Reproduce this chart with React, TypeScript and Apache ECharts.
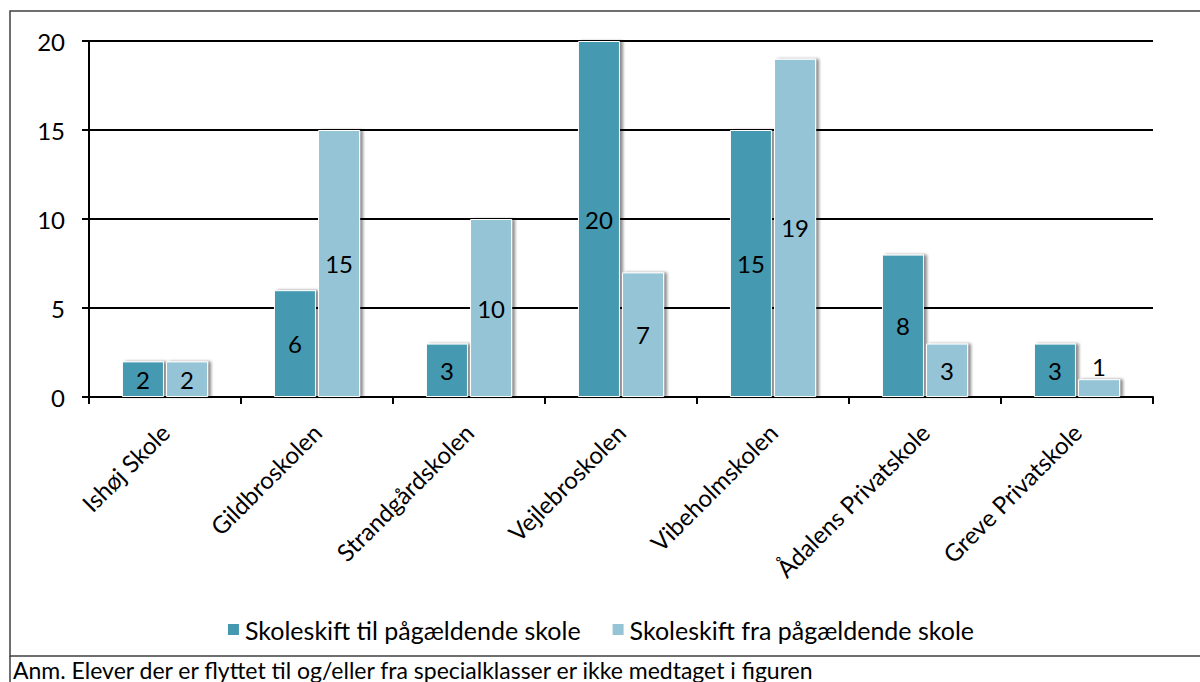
import React, { useEffect, useRef } from "react";
import * as echarts from "echarts";

const categories = [
  "Ishøj Skole",
  "Gildbroskolen",
  "Strandgårdskolen",
  "Vejlebroskolen",
  "Vibeholmskolen",
  "Ådalens Privatskole",
  "Greve Privatskole",
];
const seriesNames = ["Skoleskift til pågældende skole", "Skoleskift fra pågældende skole"];
const tilValues = [2, 6, 3, 20, 15, 8, 3];
const fraValues = [2, 15, 10, 7, 19, 3, 1];
const yTicks = [0, 5, 10, 15, 20];
const footnote = "Anm. Elever der er flyttet til og/eller fra specialklasser er ikke medtaget i figuren";

const FONT = "Lato, 'Noto Sans', sans-serif";
const colors = ["#4499B0", "#94C4D6"];

export default function App() {
  const ref = useRef<HTMLDivElement>(null);
  useEffect(() => {
    if (!ref.current) return;
    const chart = echarts.init(ref.current, null, { renderer: "svg" });
    const mkData = (vals: number[]) =>
      vals.map((v) => ({
        value: v,
        label: v <= 1 ? { position: "top", distance: 1 } : undefined,
      }));
    const barStyle = (c: string) => ({
      color: c,
      borderColor: "#ffffff",
      borderWidth: 1,
      shadowColor: "rgba(0,0,0,0.45)",
      shadowBlur: 3,
      shadowOffsetX: 3,
      shadowOffsetY: 0,
    });
    chart.setOption({
      animation: false,
      textStyle: { fontFamily: FONT },
      grid: { left: 89, right: 47, top: 41, bottom: 285 },
      legend: {
        top: 612,
        left: "center",
        itemWidth: 13,
        itemHeight: 13,
        itemGap: 30,
        icon: "rect",
        textStyle: { fontSize: 25, color: "#000", fontFamily: FONT },
        data: seriesNames,
      },
      xAxis: {
        type: "category",
        data: categories,
        axisLine: { lineStyle: { color: "#000", width: 2 } },
        axisTick: { show: true, alignWithLabel: false, length: 7, lineStyle: { color: "#000", width: 2 } },
        axisLabel: {
          rotate: 45,
          margin: 31,
          fontSize: 24,
          color: "#000",
          fontFamily: FONT,
          interval: 0,
        },
      },
      yAxis: {
        type: "value",
        min: yTicks[0],
        max: yTicks[yTicks.length - 1],
        interval: yTicks[1] - yTicks[0],
        axisLine: { show: true, lineStyle: { color: "#000", width: 2 } },
        axisTick: { show: true, length: 7, lineStyle: { color: "#000", width: 2 } },
        splitLine: { show: true, lineStyle: { color: "#000", width: 2 } },
        axisLabel: { fontSize: 24, color: "#000", margin: 24, fontFamily: FONT },
      },
      series: [
        {
          name: seriesNames[0],
          type: "bar",
          data: mkData(tilValues),
          barWidth: 42,
          barGap: "5%",
          itemStyle: barStyle(colors[0]),
          label: { show: true, position: "inside", fontSize: 24, color: "#000", fontFamily: FONT },
        },
        {
          name: seriesNames[1],
          type: "bar",
          data: mkData(fraValues),
          barWidth: 42,
          barGap: "5%",
          itemStyle: barStyle(colors[1]),
          label: { show: true, position: "inside", fontSize: 24, color: "#000", fontFamily: FONT },
        },
      ],
      graphic: [
        {
          type: "rect",
          shape: { x: 10, y: 11, width: 1200, height: 645 },
          style: { fill: "none", stroke: "#404040", lineWidth: 1.5 },
          silent: true,
        },
        {
          type: "line",
          shape: { x1: 10, y1: 656, x2: 10, y2: 690 },
          style: { stroke: "#404040", lineWidth: 1.5 },
          silent: true,
        },
        {
          type: "text",
          left: 13,
          top: 658,
          style: { text: footnote, fontSize: 23, fill: "#000", fontFamily: FONT },
          silent: true,
        },
      ],
    });
    return () => chart.dispose();
  }, []);
  return (
    <div
      ref={ref}
      style={{ position: "fixed", left: 0, top: 0, width: 1200, height: 682, background: "#fff" }}
    />
  );
}
